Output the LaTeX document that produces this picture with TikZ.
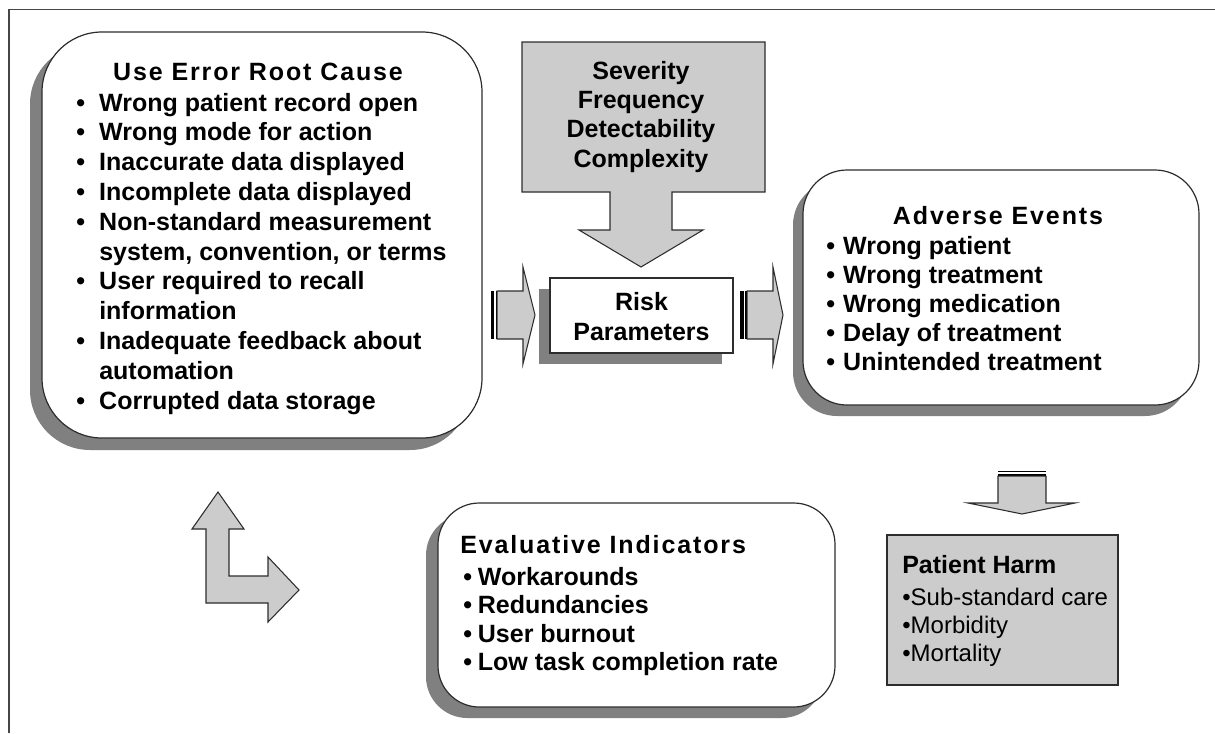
\documentclass[tikz,border=0pt]{standalone}
\usepackage{fontspec}
\setmainfont{Liberation Sans}
\newfontfamily\titlefont[LetterSpace=7.5]{Liberation Sans}
\usetikzlibrary{shadows}
\definecolor{boxgray}{RGB}{204,204,204}
\definecolor{shadowgray}{RGB}{128,128,128}
\definecolor{linegray}{RGB}{45,45,45}
\definecolor{framegray}{RGB}{70,70,70}
\newcommand{\bodysize}{\fontsize{18.75}{22.35}\selectfont}
\newcommand{\bl}[1]{\makebox[#1][l]{\textbullet}}
\tikzset{
  rbox/.style={draw=linegray, line width=0.9pt, fill=white, inner sep=0pt},
  shd/.style 2 args={drop shadow={shadow xshift=#1, shadow yshift=#2, fill=shadowgray, opacity=1}},
  txt/.style={inner sep=0pt, text=black},
  blockarrow/.style={draw=linegray, line width=0.8pt, fill=boxgray, line join=miter},
  stripe/.style={fill=black, draw=none}
}
\begin{document}
\begin{tikzpicture}[x=0.75pt,y=-0.75pt]
\useasboundingbox (0,0) rectangle (1215,733);
% frame
\draw[framegray, line width=1.1pt] (9,733) -- (9,9.5) -- (1215,9.5);

% boxes
\node[rbox, shd={-9pt}{-9pt}, rounded corners=45pt, minimum width=330pt, minimum height=304.5pt] (root) at (262,235) {};
\node[rbox, shd={-7.5pt}{-8.25pt}, rounded corners=33pt, minimum width=297pt, minimum height=176.25pt] (adverse) at (1001,287.5) {};
\node[rbox, shd={-9pt}{-8.25pt}, rounded corners=31pt, minimum width=297.75pt, minimum height=153pt] (evalbox) at (636.5,605) {};
\node[rbox, shd={-8.25pt}{-8.25pt}, minimum width=137.25pt, minimum height=56.25pt] (risk) at (641.5,315.5) {};
\node[rbox, fill=boxgray, minimum width=173.25pt, minimum height=112.5pt] (harm) at (1002.5,610) {};

% severity callout
\draw[blockarrow] (522,42) -- (765,42) -- (765,192) -- (672,192) -- (672,230) -- (703,230)
  -- (641,267) -- (579,230) -- (610,230) -- (610,192) -- (522,192) -- cycle;

% striped arrow root -> risk
\fill[stripe] (491,291) rectangle (494.3,339);
\fill[stripe] (495.6,291) rectangle (497.2,339);
\draw[blockarrow] (497.2,291) -- (523,291) -- (523,267) -- (535,315) -- (523,364) -- (523,339) -- (497.2,339) -- cycle;

% striped arrow risk -> adverse
\fill[stripe] (740,291) rectangle (743.8,339);
\fill[stripe] (745.2,291) rectangle (747.2,339);
\draw[blockarrow] (747.2,291) -- (773,291) -- (773,267) -- (783,315) -- (773,364) -- (773,339) -- (747.2,339) -- cycle;

% striped arrow adverse -> harm
\fill[stripe] (998,470.5) rectangle (1046,472.2);
\fill[stripe] (998,473.5) rectangle (1046,476.2);
\draw[blockarrow] (998,476.2) -- (1046,476.2) -- (1046,503) -- (1075,503) -- (1022,514) -- (968,503) -- (998,503) -- cycle;

% bent arrow
\draw[blockarrow] (218,492) -- (244,529) -- (229,529) -- (229,576) -- (268,576) -- (268,557) -- (299,590)
  -- (268,622) -- (268,603) -- (206,603) -- (206,529) -- (192,529) -- cycle;

% texts
\node[txt, anchor=base] (roottitle) at (258,80) {\bodysize\titlefont\bfseries Use Error Root Cause};
\node[txt, anchor=base west] (rootlist) at (76,111) {\begin{minipage}[t]{420pt}\fontsize{18.75}{22.35}\selectfont\bfseries
\bl{17.25pt}Wrong patient record open\\
\bl{17.25pt}Wrong mode for action\\
\bl{17.25pt}Inaccurate data displayed\\
\bl{17.25pt}Incomplete data displayed\\
\bl{17.25pt}Non-standard measurement\\
\hspace*{17.25pt}system, convention, or terms\\
\bl{17.25pt}User required to recall\\
\hspace*{17.25pt}information\\
\bl{17.25pt}Inadequate feedback about\\
\hspace*{17.25pt}automation\\
\bl{17.25pt}Corrupted data storage
\end{minipage}};

\node[txt, anchor=base] (sevtext) at (641,79) {\begin{minipage}[t]{200pt}\centering\fontsize{18.75}{22}\selectfont\bfseries
Severity\\
Frequency\\
Detectability\\
Complexity
\end{minipage}};

\node[txt, anchor=base] (risktext) at (641.5,310) {\begin{minipage}[t]{130pt}\centering\fontsize{18.75}{22.5}\selectfont\bfseries
Risk\\
Parameters
\end{minipage}};

\node[txt, anchor=base] (advtitle) at (998,224) {\bodysize\titlefont\bfseries Adverse Events};
\node[txt, anchor=base west] (advlist) at (826,254) {\begin{minipage}[t]{280pt}\fontsize{18.75}{21.75}\selectfont\bfseries
\bl{12.75pt}Wrong patient\\
\bl{12.75pt}Wrong treatment\\
\bl{12.75pt}Wrong medication\\
\bl{12.75pt}Delay of treatment\\
\bl{12.75pt}Unintended treatment
\end{minipage}};

\node[txt, anchor=base west] (evaltitle) at (460,553) {\bodysize\titlefont\bfseries Evaluative Indicators};
\node[txt, anchor=base west] (evallist) at (463,585) {\begin{minipage}[t]{280pt}\fontsize{18.75}{21.4}\selectfont\bfseries
\bl{11pt}Workarounds\\
\bl{11pt}Redundancies\\
\bl{11pt}User burnout\\
\bl{11pt}Low task completion rate
\end{minipage}};

\node[txt, anchor=base west] (harmtitle) at (902,573) {\bodysize\bfseries Patient Harm};
\node[txt, anchor=base west] (harmlist) at (902,605) {\begin{minipage}[t]{200pt}\fontsize{18}{21}\selectfont
\textbullet Sub-standard care\\
\textbullet Morbidity\\
\textbullet Mortality
\end{minipage}};
\end{tikzpicture}
\end{document}
